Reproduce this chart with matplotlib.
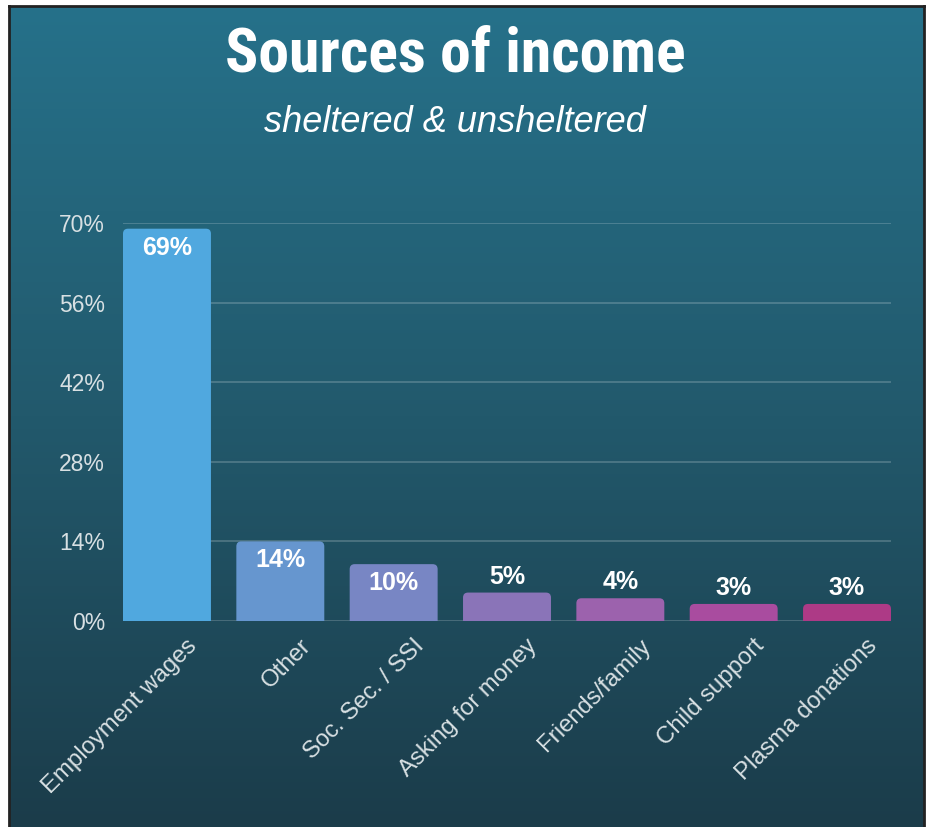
import numpy as np
import matplotlib
matplotlib.use("Agg")
import matplotlib.pyplot as plt
import matplotlib.patches as mpatches
from matplotlib.colors import LinearSegmentedColormap

# income sources, percent of respondents
categories = ["Employment wages", "Other", "Soc. Sec. / SSI", "Asking for money",
              "Friends/family", "Child support", "Plasma donations"]
values = [69, 14, 10, 5, 4, 3, 3]
value_labels = ["69%", "14%", "10%", "5%", "4%", "3%", "3%"]
y_ticks = [0, 14, 28, 42, 56, 70]
y_tick_labels = ["0%", "14%", "28%", "42%", "56%", "70%"]

bar_colors = ["#50a8df", "#6696cf", "#7886c4", "#8a74b8", "#9c62ad", "#a94c9f", "#ad3a86"]

W, H = 926, 827
fig = plt.figure(figsize=(W / 100, H / 100), dpi=100)
fig.patch.set_facecolor("white")

# gradient panel with a thin dark frame
bg = fig.add_axes([9 / W, 0, 915 / W, 821 / H])
grad = LinearSegmentedColormap.from_list("bg", ["#26718a", "#22596c", "#1b3c4a"])
bg.imshow(np.linspace(0, 1, 256).reshape(-1, 1), aspect="auto", cmap=grad,
          extent=[0, 1, 0, 1], origin="upper")
bg.set_xticks([])
bg.set_yticks([])
for side in ["left", "top", "right"]:
    bg.spines[side].set_color("#222222")
    bg.spines[side].set_linewidth(2)
bg.spines["bottom"].set_visible(False)

fig.text(455 / W, 1 - 72 / H, "Sources of income", ha="center", va="baseline",
         color="white", fontsize=44.5, fontweight="bold", fontstretch="condensed",
         family=["Roboto Condensed", "DejaVu Sans"])
fig.text(455 / W, 1 - 132 / H, "sheltered & unsheltered", ha="center", va="baseline",
         color="white", fontsize=26, style="italic", family=["Liberation Sans", "DejaVu Sans"])

# plot area: 0% at y=621 px, 70% at y=223 px
left, right, top, bottom = 123, 891, 223, 621
ax = fig.add_axes([left / W, 1 - bottom / H, (right - left) / W, (bottom - top) / H])
ax.patch.set_alpha(0)

bar_w = 0.776
x = np.arange(len(categories))
ax.set_xlim(-bar_w / 2, len(categories) - 1 + bar_w / 2)
ax.set_ylim(0, 70)

for t in y_ticks:
    ax.axhline(t, color="white", alpha=0.22, lw=1.2, zorder=1)

bars = ax.bar(x, values, width=bar_w, color=bar_colors)

# swap plain rectangles for ones with rounded top corners
px_x = (right - left) / (ax.get_xlim()[1] - ax.get_xlim()[0])
px_y = (bottom - top) / 70
aspect = px_x / px_y
r = 5 / px_x
for rect in bars:
    bx, bw, bh = rect.get_x(), rect.get_width(), rect.get_height()
    fc = rect.get_facecolor()
    rect.remove()
    patch = mpatches.FancyBboxPatch((bx, -1.5), bw, bh + 1.5,
                                    boxstyle=f"round,pad=0,rounding_size={r}",
                                    mutation_aspect=aspect, fc=fc, ec="none", zorder=2)
    ax.add_patch(patch)

for xi, v, lab in zip(x, values, value_labels):
    if v >= 8:
        ax.annotate(lab, (xi, v), xytext=(0, -19), textcoords="offset pixels",
                    ha="center", va="center", color="white", fontsize=18,
                    fontweight="bold", family="Liberation Sans", zorder=3)
    else:
        ax.annotate(lab, (xi, v), xytext=(0, 16), textcoords="offset pixels",
                    ha="center", va="center", color="white", fontsize=18,
                    fontweight="bold", family="Liberation Sans", zorder=3)

for s in ax.spines.values():
    s.set_visible(False)
ax.set_yticks(y_ticks)
ax.set_yticklabels(y_tick_labels, fontsize=16.5, color="#d8e0e3", family="Liberation Sans")
ax.tick_params(axis="y", length=0, pad=13)
ax.set_xticks([])

# rotated category labels, right end just below each bar
for xi, lab in zip(x, categories):
    ax.annotate(lab, (xi, 0), xytext=(27, -22), textcoords="offset pixels",
                ha="right", va="center", rotation=45, rotation_mode="anchor",
                color="#d8e0e3", fontsize=17.2, family="Liberation Sans",
                annotation_clip=False)

fig.savefig("out.png", dpi=100, facecolor=fig.get_facecolor())
